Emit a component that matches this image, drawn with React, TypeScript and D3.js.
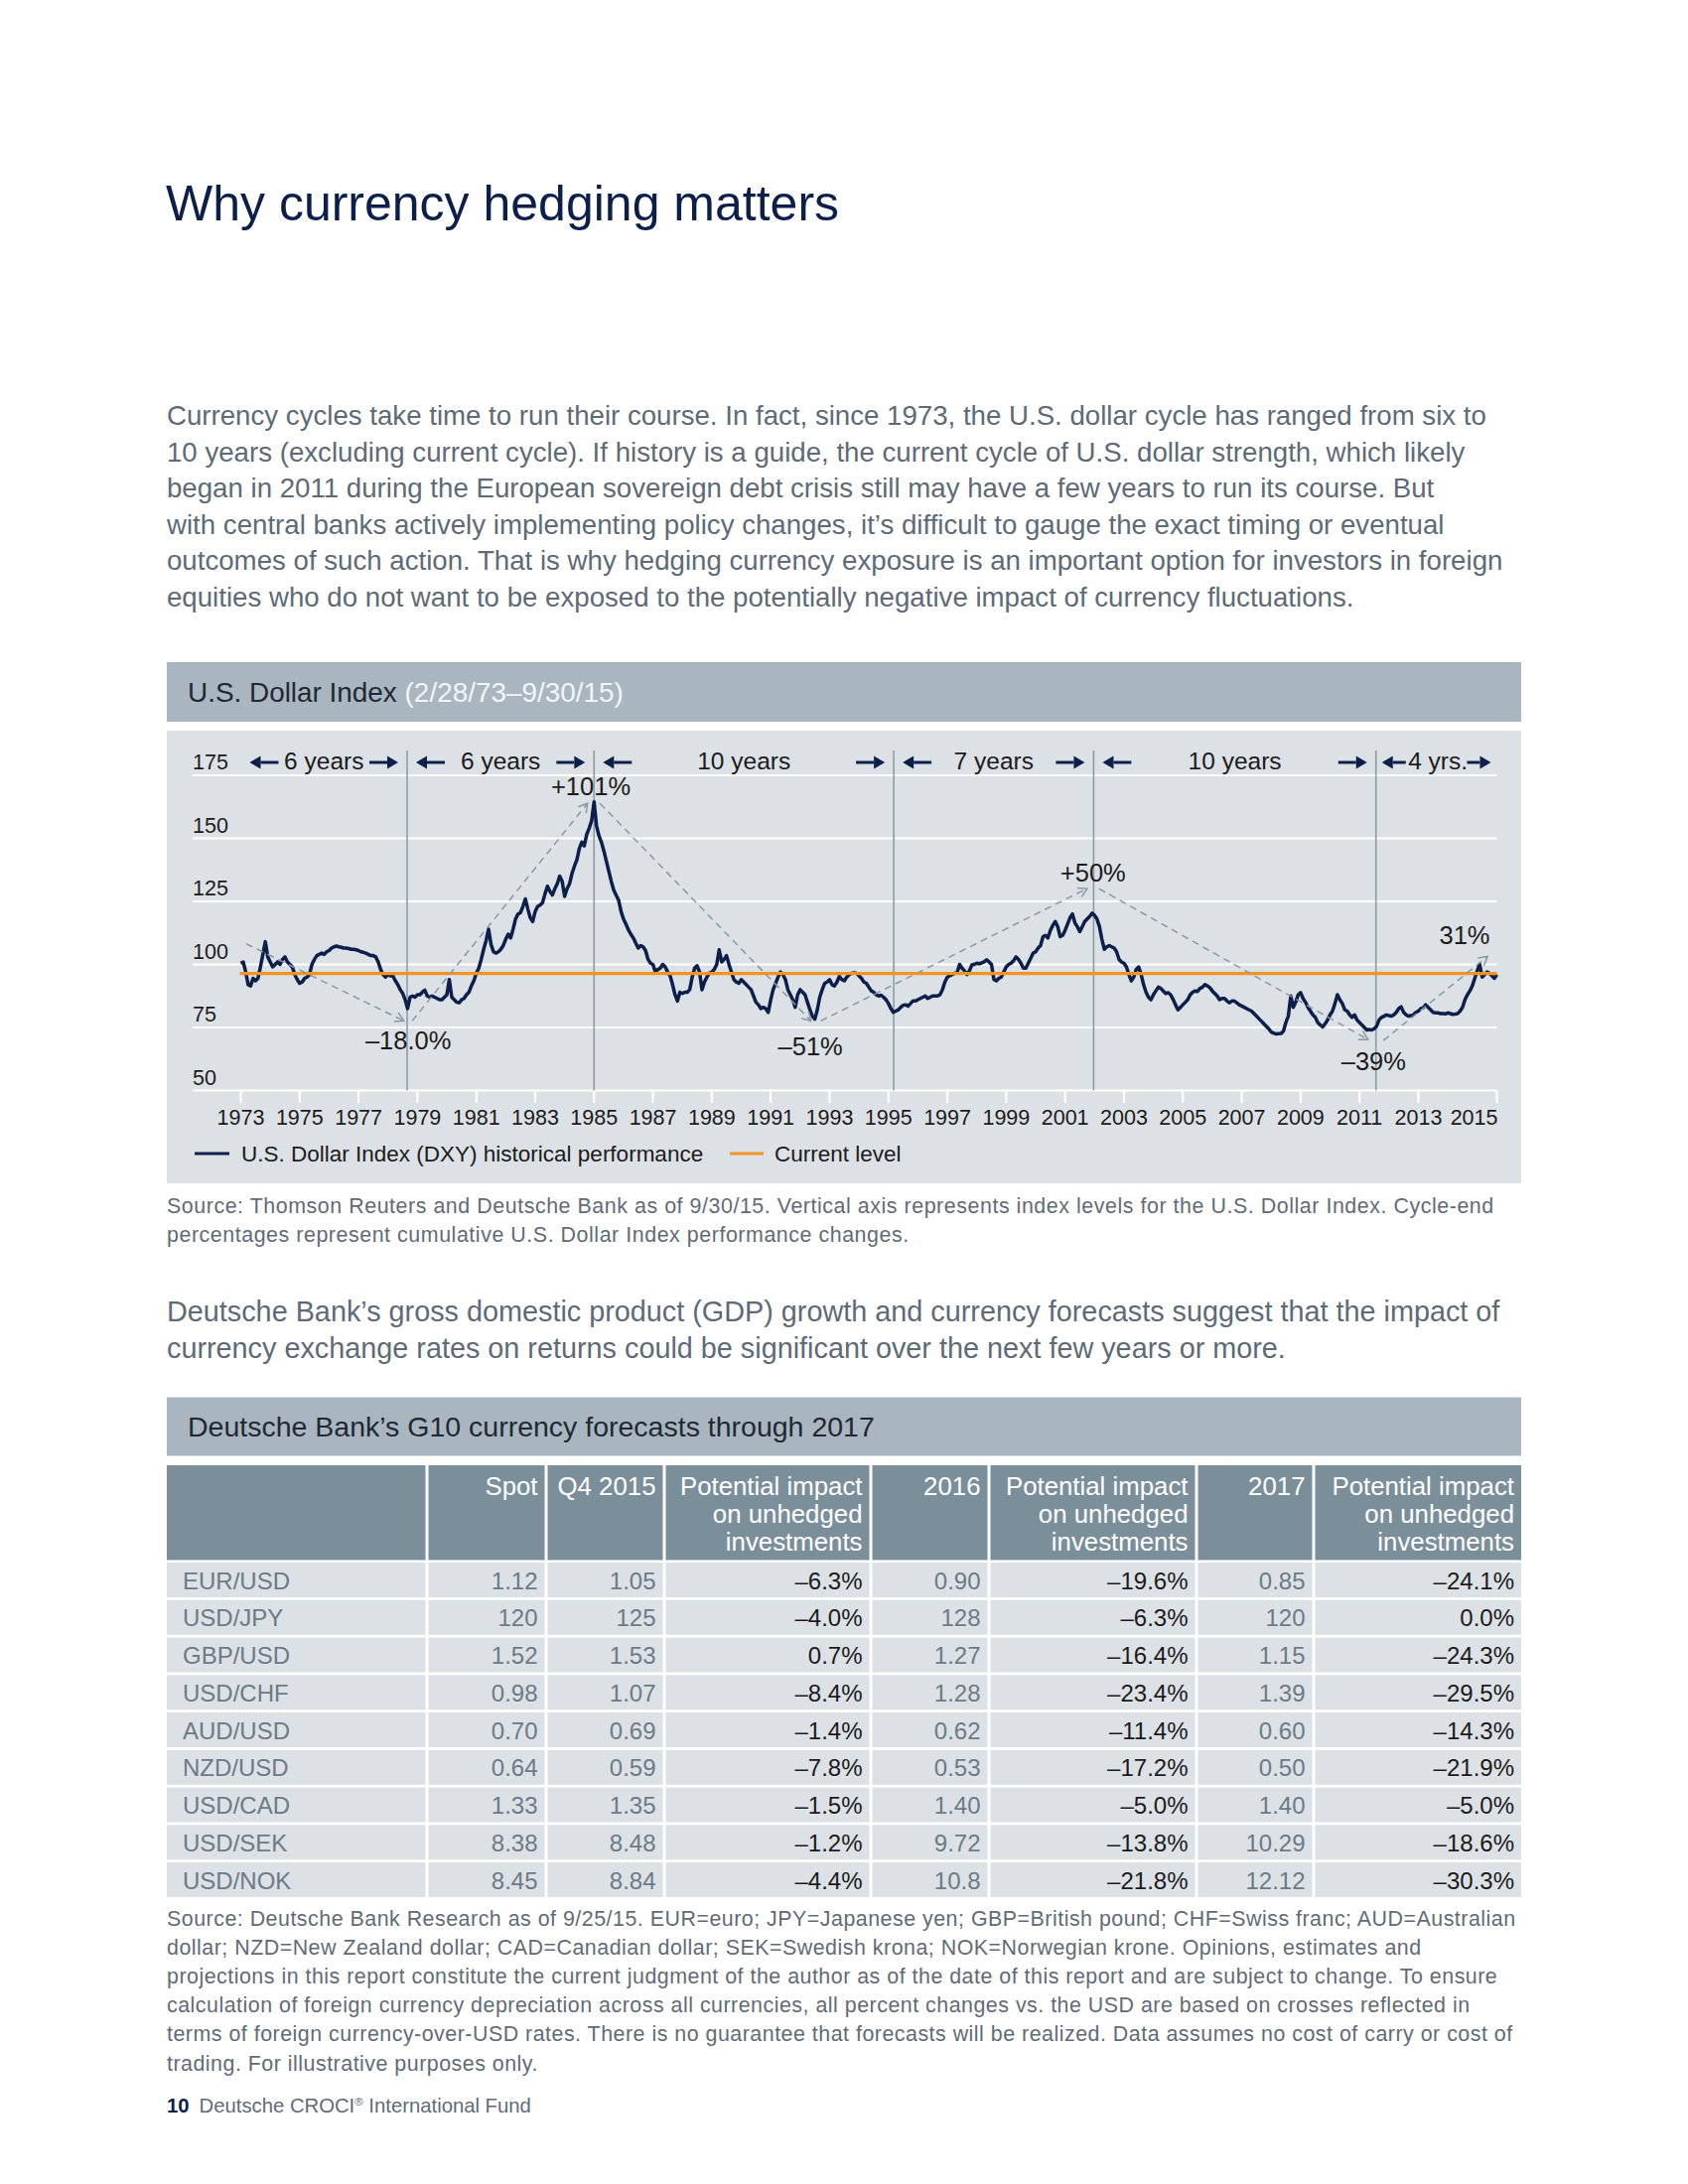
import React, { useEffect } from "react";
import * as d3 from "d3";

const FONT = "'Liberation Sans', Arial, Helvetica, sans-serif";

// ---------------- text content ----------------
const pageTitle = "Why currency hedging matters";
const introLines = [
  "Currency cycles take time to run their course. In fact, since 1973, the U.S. dollar cycle has ranged from six to",
  "10 years (excluding current cycle). If history is a guide, the current cycle of U.S. dollar strength, which likely",
  "began in 2011 during the European sovereign debt crisis still may have a few years to run its course. But",
  "with central banks actively implementing policy changes, it\u2019s difficult to gauge the exact timing or eventual",
  "outcomes of such action. That is why hedging currency exposure is an important option for investors in foreign",
  "equities who do not want to be exposed to the potentially negative impact of currency fluctuations.",
];
const chartTitle = "U.S. Dollar Index ";
const chartPeriod = "(2/28/73\u20139/30/15)";
const chartSourceLines = [
  "Source: Thomson Reuters and Deutsche Bank as of 9/30/15. Vertical axis represents index levels for the U.S. Dollar Index. Cycle-end",
  "percentages represent cumulative U.S. Dollar Index performance changes.",
];
const bridgeLines = [
  "Deutsche Bank\u2019s gross domestic product (GDP) growth and currency forecasts suggest that the impact of",
  "currency exchange rates on returns could be significant over the next few years or more.",
];
const tableTitle = "Deutsche Bank\u2019s G10 currency forecasts through 2017";
const tableSourceLines = [
  "Source: Deutsche Bank Research as of 9/25/15. EUR=euro; JPY=Japanese yen; GBP=British pound; CHF=Swiss franc; AUD=Australian",
  "dollar; NZD=New Zealand dollar; CAD=Canadian dollar; SEK=Swedish krona; NOK=Norwegian krone. Opinions, estimates and",
  "projections in this report constitute the current judgment of the author as of the date of this report and are subject to change. To ensure",
  "calculation of foreign currency depreciation across all currencies, all percent changes vs. the USD are based on crosses reflected in",
  "terms of foreign currency-over-USD rates. There is no guarantee that forecasts will be realized. Data assumes no cost of carry or cost of",
  "trading. For illustrative purposes only.",
];
const footerPage = "10";
const footerName = "Deutsche CROCI";
const footerName2 = " International Fund";

// ---------------- chart data ----------------
const DXY_START_YEAR = 1973;
// monthly readings of the U.S. Dollar Index (DXY)
const dxyMonthly = [
  100.5, 101, 97, 92, 91.5, 94.5, 93.5, 94.5, 99, 104, 109, 103,
  101, 99, 100, 101, 100, 102, 103, 101, 100, 99, 96, 94,
  92.5, 93, 94.5, 95, 96, 100, 102, 103.5, 104, 104.5, 104, 105,
  105.5, 106.5, 107, 107.3, 107, 106.8, 106.5, 106.5, 106.3, 106, 106, 105.8,
  105.5, 105, 104.8, 104.5, 104, 103.5, 103.5, 103, 101, 98, 96, 95,
  96, 95.5, 95.5, 93.5, 92, 90, 88.5, 86, 82.5, 87, 87.5, 87,
  88, 88, 89, 89.8, 87.5, 87, 87.5, 87, 86.5, 86, 86, 87,
  88, 94, 87, 86, 85, 84.8, 86, 86.5, 88, 89, 91.5, 93.5,
  96.5, 98.5, 102, 106, 109.5, 114, 108, 105, 104.5, 105, 106, 107.5,
  110, 112, 110.5, 114, 118, 120, 120.5, 123, 126, 122, 118.5, 117,
  121, 123, 123.5, 124.5, 128, 131, 129, 127.5, 130, 132, 135, 133,
  127, 130, 132, 136, 139, 141.5, 146, 148.5, 147, 151.5, 154, 157,
  164.5, 155, 151, 148.5, 145, 141, 137, 133, 129.5, 127.5, 125.5, 121,
  118, 116, 113.7, 112, 110.5, 108.5, 106.5, 107.5, 107, 105.5, 102, 100.5,
  100, 97, 98, 98.5, 100, 99, 97, 95.5, 92, 88, 85.5, 89,
  88.5, 89, 89, 90, 95, 98.5, 99.5, 97, 90, 93, 95, 96.5,
  97, 98, 100, 105.8, 101, 102, 103.5, 100, 97, 94, 93, 92.5,
  94, 93, 92, 91, 90, 87.5, 85, 84, 82.5, 83, 82.5, 81,
  86, 90, 92.5, 95, 97, 96, 94, 90, 88, 86, 83, 88,
  90, 89, 88, 85, 82, 79.5, 78.3, 82, 87, 90, 92.5, 93,
  94, 92, 91.5, 93, 95.3, 94, 93.5, 95, 96, 96.5, 96.7, 96.5,
  95.5, 94.5, 93, 92.5, 91, 89.5, 89, 88, 87.5, 87.8, 87, 86,
  84.5, 82.5, 81, 81.5, 82, 83, 83.8, 84, 83.5, 84.5, 85.5, 85.5,
  86, 86.5, 87, 87.5, 86.5, 87, 87.5, 87.5, 87.5, 88, 90, 93,
  95, 95.5, 96, 96.5, 96.8, 100, 98.5, 97.5, 96, 97.5, 99.8, 100,
  100.5, 100.3, 100.6, 101, 101.8, 101, 100, 94, 93.5, 94.5, 95, 97,
  99, 100, 100.5, 101.5, 103, 102, 100.5, 98.5, 98.5, 100.5, 102.5, 104.5,
  105, 106.5, 107.5, 111, 111.5, 110.5, 113.5, 115.5, 117, 115, 111, 111.5,
  113.5, 116, 118.5, 120, 116.5, 115, 113, 115, 117, 118, 119, 120.3,
  119.5, 118, 115, 110, 106, 107, 107.5, 107, 106.5, 105, 102, 101,
  100.5, 99, 96, 93.5, 95, 98, 99, 96, 92, 89, 87, 86,
  88, 89.5, 91, 90.5, 89.5, 88.5, 88.8, 88, 86.2, 84, 82, 83,
  84, 85, 86, 88, 89, 89.5, 89.3, 90.5, 91, 92, 91.5, 90.8,
  89.5, 88.5, 87.5, 86, 86.5, 86.5, 85.5, 84.8, 85.5, 85.5, 84.8, 84,
  83.5, 83, 82.5, 82, 81.5, 80.5, 79.5, 78.5, 77.5, 76.5, 75.5, 74.5,
  73.2, 72.8, 72.4, 72.5, 72.6, 73.5, 77, 79.5, 87.5, 83, 85, 88,
  88.8, 86.5, 85, 83, 81.5, 80, 79, 77, 76, 75.2, 76.5, 78,
  80, 81.5, 84.5, 88, 86, 84.5, 82, 81.5, 80, 79, 80, 78,
  77, 76, 75, 74, 74.2, 74, 74.5, 75.5, 78, 79, 79.5, 80,
  79.7, 79.5, 80, 81, 82.5, 83.2, 81, 80, 79.5, 79.7, 80, 81,
  81.5, 82.5, 82.8, 84, 83, 82, 81, 80.8, 80.8, 80.5, 80.5, 80.4,
  80.8, 80.5, 80.2, 80.3, 80.5, 81.5, 83, 86, 88, 89.5, 91.5, 94.5,
  97.5, 100, 95, 96, 97, 96.5, 95.5, 94.5, 96,
];
const currentLevel = 96.4;
const yTicks = [50, 75, 100, 125, 150, 175];
const xTickYears = [1973, 1975, 1977, 1979, 1981, 1983, 1985, 1987, 1989, 1991, 1993, 1995, 1997, 1999, 2001, 2003, 2005, 2007, 2009, 2011, 2013];
const lastTickLabel = "2015";
const cycleTurns = [1978.65, 1985.0, 1995.18, 2001.97, 2011.56];
const cycleLengths = ["6 years", "6 years", "10 years", "7 years", "10 years", "4 yrs."];
const cycleChanges = [
  { label: "\u201318.0%", t: 1978.69, v: 66.2 },
  { label: "+101%", t: 1984.89, v: 167.2 },
  { label: "\u201351%", t: 1992.35, v: 64.1 },
  { label: "+50%", t: 2001.95, v: 132.8 },
  { label: "\u201339%", t: 2011.48, v: 58.0 },
  { label: "31%", t: 2014.57, v: 108.1 },
];
const trendArrows = [
  { from: [1973.18, 108.2], to: [1978.54, 77.6] },
  { from: [1978.82, 77.6], to: [1984.78, 163.9] },
  { from: [1985.2, 163.9], to: [1992.37, 77.6] },
  { from: [1992.7, 77.6], to: [2001.75, 130.1] },
  { from: [2002.15, 130.1], to: [2011.29, 70.2] },
  { from: [2011.81, 69.8], to: [2015.35, 103.2] },
];
const legendItems = ["U.S. Dollar Index (DXY) historical performance", "Current level"];

// ---------------- table data ----------------
const pairs = ["EUR/USD", "USD/JPY", "GBP/USD", "USD/CHF", "AUD/USD", "NZD/USD", "USD/CAD", "USD/SEK", "USD/NOK"];
const spotRates = ["1.12", "120", "1.52", "0.98", "0.70", "0.64", "1.33", "8.38", "8.45"];
const q4Forecast = ["1.05", "125", "1.53", "1.07", "0.69", "0.59", "1.35", "8.48", "8.84"];
const q4Impact = [-6.3, -4.0, 0.7, -8.4, -1.4, -7.8, -1.5, -1.2, -4.4];
const forecast2016 = ["0.90", "128", "1.27", "1.28", "0.62", "0.53", "1.40", "9.72", "10.8"];
const impact2016 = [-19.6, -6.3, -16.4, -23.4, -11.4, -17.2, -5.0, -13.8, -21.8];
const forecast2017 = ["0.85", "120", "1.15", "1.39", "0.60", "0.50", "1.40", "10.29", "12.12"];
const impact2017 = [-24.1, 0.0, -24.3, -29.5, -14.3, -21.9, -5.0, -18.6, -30.3];
const columnHeaders = [
  [""],
  ["Spot"],
  ["Q4 2015"],
  ["Potential impact", "on unhedged", "investments"],
  ["2016"],
  ["Potential impact", "on unhedged", "investments"],
  ["2017"],
  ["Potential impact", "on unhedged", "investments"],
];

// ---------------- colours ----------------
const C = {
  navy: "#0c1f4b",
  para: "#5d6a77",
  note: "#5f6b77",
  band: "#a9b6bf",
  panel: "#dce1e5",
  head: "#7b8f9b",
  grid: "#ffffff",
  orange: "#f39323",
  cycle: "#8d9ba7",
  dash: "#8a98a4",
  ink: "#1b1b1b",
  cellGray: "#6d7a86",
};

const fmtPct = (v: number) => (v < 0 ? "\u2013" : "") + Math.abs(v).toFixed(1) + "%";

export default function App() {
  useEffect(() => {
    document.body.style.margin = "0";
  }, []);

  const tEnd = DXY_START_YEAR + (dxyMonthly.length - 1) / 12;
  const x = d3.scaleLinear().domain([DXY_START_YEAR, tEnd]).range([242.5, 1507.5]);
  const y = d3.scaleLinear().domain([50, 175]).range([1098.5, 781]);
  const gridX0 = 194;
  const [xr0, xr1] = x.range();

  const line = d3
    .line<number>()
    .x((_, i) => x(DXY_START_YEAR + i / 12))
    .y((d) => y(d))
    .curve(d3.curveLinear);

  // top cycle-length annotation
  const bounds = [xr0, ...cycleTurns.map((t) => x(t)), xr1];
  const arrowY = 768;
  const hArrow = (x0: number, x1: number, dir: number) => {
    const tip = dir > 0 ? x1 : x0;
    const tail = dir > 0 ? x0 : x1;
    const base = tip - dir * 11;
    return (
      <g>
        <line x1={tail} y1={arrowY} x2={base} y2={arrowY} stroke={C.navy} strokeWidth={3} />
        <path d={`M${tip},${arrowY} L${base},${arrowY - 6.5} L${base},${arrowY + 6.5} Z`} fill={C.navy} />
      </g>
    );
  };

  const chevron = (from: number[], to: number[]) => {
    const x1 = x(from[0]), y1 = y(from[1]), x2 = x(to[0]), y2 = y(to[1]);
    const ang = Math.atan2(y2 - y1, x2 - x1);
    const L = 10, a = Math.PI / 6;
    const p1 = [x2 - L * Math.cos(ang - a), y2 - L * Math.sin(ang - a)];
    const p2 = [x2 - L * Math.cos(ang + a), y2 - L * Math.sin(ang + a)];
    return `M${p1[0]},${p1[1]} L${x2},${y2} L${p2[0]},${p2[1]}`;
  };

  // table geometry
  const colEdges = [168, 430, 550, 669, 877, 996, 1205, 1323, 1532];
  const headTop = 1476, headBottom = 1571.5;
  const rowTop0 = 1574, rowPitch = 37.76, rowH = 35;
  const rowCols = pairs.map((p, i) => [
    { text: p, gray: true },
    { text: spotRates[i], gray: true },
    { text: q4Forecast[i], gray: true },
    { text: fmtPct(q4Impact[i]), gray: false },
    { text: forecast2016[i], gray: true },
    { text: fmtPct(impact2016[i]), gray: false },
    { text: forecast2017[i], gray: true },
    { text: fmtPct(impact2017[i]), gray: false },
  ]);
  const cellX0 = (c: number) => colEdges[c] + (c === 0 ? 0 : 1.5);
  const cellX1 = (c: number) => colEdges[c + 1] - (c === colEdges.length - 2 ? 0 : 1.5);

  return (
    <svg
      width={1700}
      height={2200}
      viewBox="0 0 1700 2200"
      style={{ position: "absolute", left: 0, top: 0, display: "block", background: "#ffffff" }}
      fontFamily={FONT}
    >
      <rect x={0} y={0} width={1700} height={2200} fill="#ffffff" />

      {/* page title */}
      <text x={167} y={222} fontSize={50} fill={C.navy}>
        {pageTitle}
      </text>

      {/* intro paragraph */}
      {introLines.map((l, i) => (
        <text key={i} x={168} y={428 + i * 36.5} fontSize={27.65} fill={C.para}>
          {l}
        </text>
      ))}

      {/* chart header band */}
      <rect x={168} y={667} width={1364} height={60} fill={C.band} />
      <text x={189} y={707} fontSize={27.9} fill="#1e2935">
        {chartTitle}
        <tspan fill="#f2f5f7">{chartPeriod}</tspan>
      </text>

      {/* chart panel */}
      <rect x={168} y={736} width={1364} height={456} fill={C.panel} />

      {/* gridlines + y labels */}
      {yTicks.map((t) => (
        <g key={t}>
          <line x1={gridX0} x2={xr1} y1={y(t)} y2={y(t)} stroke={C.grid} strokeWidth={2.2} />
          <text x={gridX0} y={y(t) - 6} fontSize={21.5} fill={C.ink}>
            {t}
          </text>
        </g>
      ))}

      {/* x ticks */}
      {xTickYears.map((yr) => (
        <g key={yr}>
          <line x1={x(yr)} x2={x(yr)} y1={y(50)} y2={y(50) + 12.5} stroke={C.grid} strokeWidth={2.2} />
          <text x={x(yr)} y={1133} fontSize={21.5} fill={C.ink} textAnchor="middle">
            {yr}
          </text>
        </g>
      ))}
      <line x1={xr1} x2={xr1} y1={y(50)} y2={y(50) + 12.5} stroke={C.grid} strokeWidth={2.2} />
      <text x={xr1 + 1} y={1133} fontSize={21.5} fill={C.ink} textAnchor="end">
        {lastTickLabel}
      </text>

      {/* cycle turning-point verticals */}
      {cycleTurns.map((t, i) => (
        <line key={i} x1={x(t)} x2={x(t)} y1={756} y2={y(50)} stroke={C.cycle} strokeWidth={1.6} />
      ))}

      {/* cycle length annotations */}
      {cycleLengths.map((lab, i) => {
        const L = bounds[i], R = bounds[i + 1];
        const narrow = R - L < 150;
        const inset = narrow ? 6 : 9;
        const len = narrow ? 24 : 29;
        return (
          <g key={i}>
            {hArrow(L + inset, L + inset + len, -1)}
            {hArrow(R - inset - len, R - inset, 1)}
            <text x={(L + R) / 2 + (narrow ? 1.5 : 0)} y={775} fontSize={24.5} fill={C.ink} textAnchor="middle">
              {lab}
            </text>
          </g>
        );
      })}

      {/* data line */}
      <path d={line(dxyMonthly) || ""} fill="none" stroke={C.navy} strokeWidth={3.5} strokeLinejoin="round" />

      {/* current level */}
      <line x1={xr0 - 1} x2={xr1} y1={y(currentLevel)} y2={y(currentLevel)} stroke={C.orange} strokeWidth={3.3} />

      {/* dashed trend arrows */}
      {trendArrows.map((a, i) => (
        <g key={i}>
          <line
            x1={x(a.from[0])}
            y1={y(a.from[1])}
            x2={x(a.to[0])}
            y2={y(a.to[1])}
            stroke={C.dash}
            strokeWidth={1.5}
            strokeDasharray="7 5"
          />
          <path d={chevron(a.from, a.to)} fill="none" stroke={C.dash} strokeWidth={1.5} />
        </g>
      ))}

      {/* cycle-change labels */}
      {cycleChanges.map((c, i) => (
        <text key={i} x={x(c.t)} y={y(c.v)} fontSize={25.5} fill={C.ink} textAnchor="middle">
          {c.label}
        </text>
      ))}

      {/* legend */}
      <line x1={196} x2={231} y1={1162} y2={1162} stroke={C.navy} strokeWidth={3} />
      <text x={243} y={1170} fontSize={22.5} fill={C.ink}>
        {legendItems[0]}
      </text>
      <line x1={735} x2={769} y1={1162} y2={1162} stroke={C.orange} strokeWidth={3} />
      <text x={780} y={1170} fontSize={22.5} fill={C.ink}>
        {legendItems[1]}
      </text>

      {/* chart source */}
      {chartSourceLines.map((l, i) => (
        <text key={i} x={168} y={1221.5 + i * 29.5} fontSize={21.4} letterSpacing={0.55} fill={C.note}>
          {l}
        </text>
      ))}

      {/* bridge paragraph */}
      {bridgeLines.map((l, i) => (
        <text key={i} x={168} y={1331 + i * 36.5} fontSize={28.8} fill={C.para}>
          {l}
        </text>
      ))}

      {/* table title band */}
      <rect x={168} y={1407.5} width={1364} height={59} fill={C.band} />
      <text x={189} y={1447} fontSize={28.5} fill="#1e2935">
        {tableTitle}
      </text>

      {/* column headers */}
      {columnHeaders.map((lines, c) => (
        <g key={c}>
          <rect x={cellX0(c)} y={headTop} width={cellX1(c) - cellX0(c)} height={headBottom - headTop} fill={C.head} />
          {lines.map((l, j) => (
            <text key={j} x={cellX1(c) - 7} y={1506 + j * 28} fontSize={25.8} fill="#ffffff" textAnchor="end">
              {l}
            </text>
          ))}
        </g>
      ))}

      {/* rows */}
      {rowCols.map((cells, r) => {
        const top = rowTop0 + r * rowPitch;
        return (
          <g key={r}>
            {cells.map((cell, c) => (
              <g key={c}>
                <rect x={cellX0(c)} y={top} width={cellX1(c) - cellX0(c)} height={rowH} fill={C.panel} />
                {c === 0 ? (
                  <text x={184} y={top + 26.5} fontSize={24} fill={C.cellGray}>
                    {cell.text}
                  </text>
                ) : (
                  <text
                    x={cellX1(c) - 7}
                    y={top + 26.5}
                    fontSize={24}
                    fill={cell.gray ? C.cellGray : C.ink}
                    textAnchor="end"
                  >
                    {cell.text}
                  </text>
                )}
              </g>
            ))}
          </g>
        );
      })}

      {/* table source */}
      {tableSourceLines.map((l, i) => (
        <text key={i} x={168} y={1940 + i * 29.1} fontSize={21.4} letterSpacing={0.5} fill={C.note}>
          {l}
        </text>
      ))}

      {/* footer */}
      <text x={168} y={2128} fontSize={20.3} fill={C.note}>
        <tspan fill={C.navy} fontWeight="bold">
          {footerPage}
        </tspan>
        <tspan dx={10}>{footerName}</tspan>
        <tspan fontSize={11.5} dy={-7}>
          {"\u00ae"}
        </tspan>
        <tspan dy={7}>{footerName2}</tspan>
      </text>
    </svg>
  );
}
